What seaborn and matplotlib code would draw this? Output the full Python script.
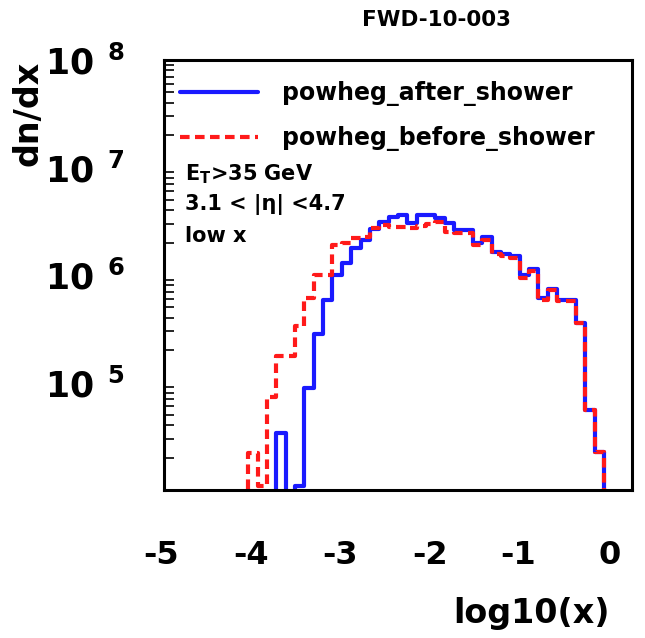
import numpy as np
import pandas as pd
import matplotlib
matplotlib.use("Agg")
import matplotlib.pyplot as plt
import matplotlib.transforms as mtransforms
from matplotlib.ticker import FixedLocator, FixedFormatter, LogLocator, NullFormatter, NullLocator
import seaborn as sns

# ---------------- data ----------------
log10x_centers = [-4.15, -4.05, -3.95, -3.85, -3.75, -3.65, -3.55, -3.45, -3.35, -3.25,
                  -3.15, -3.05, -2.95, -2.85, -2.75, -2.65, -2.55, -2.45, -2.35, -2.25,
                  -2.15, -2.05, -1.95, -1.85, -1.75, -1.65, -1.55, -1.45, -1.35, -1.25,
                  -1.15, -1.05, -0.95, -0.85, -0.75, -0.65, -0.55, -0.45, -0.35, -0.25]

after_shower = [0, 0, 0, 0, 3.4e4, 0, 1.1e4, 8.9e4, 2.8e5, 5.9e5,
                1.0e6, 1.3e6, 1.8e6, 2.1e6, 2.7e6, 3.1e6, 3.45e6, 3.6e6, 3.05e6, 3.6e6,
                3.6e6, 3.4e6, 3.05e6, 2.6e6, 2.6e6, 2.0e6, 2.25e6, 1.65e6, 1.57e6, 1.5e6,
                1.0e6, 1.14e6, 6.1e5, 7.4e5, 5.85e5, 5.85e5, 3.6e5, 5.5e4, 2.25e4, 0]

before_shower = [0, 2.2e4, 1.1e4, 7.3e4, 1.75e5, 1.75e5, 3.35e5, 6.1e5, 1.0e6, 1.0e6,
                 1.9e6, 2.0e6, 2.2e6, 2.25e6, 2.75e6, 2.9e6, 2.8e6, 2.8e6, 2.75e6, 2.85e6,
                 3.0e6, 3.1e6, 2.5e6, 2.45e6, 2.45e6, 1.9e6, 2.1e6, 1.57e6, 1.5e6, 1.44e6,
                 9.4e5, 1.1e6, 5.85e5, 7.2e5, 5.7e5, 5.7e5, 3.55e5, 5.5e4, 2.25e4, 0]

series_labels = ["powheg_after_shower", "powheg_before_shower"]
x_ticks = [-5, -4, -3, -2, -1, 0]
x_tick_labels = ["-5", "-4", "-3", "-2", "-1", "0"]
y_ticks = [1e5, 1e6, 1e7, 1e8]
y_tick_labels = [r"$\mathbf{10}^{\;\;\mathbf{5}}$", r"$\mathbf{10}^{\;\;\mathbf{6}}$",
                 r"$\mathbf{10}^{\;\;\mathbf{7}}$", r"$\mathbf{10}^{\;\;\mathbf{8}}$"]
info_lines = [r"E$_{\mathbf{T}}$>35 GeV", "3.1 < |\u03b7| <4.7", "low x"]
title_text = "FWD-10-003"

# ---------------- style ----------------
sns.set_style("white")
plt.rcParams["font.family"] = ["DejaVu Sans"]
plt.rcParams["font.weight"] = "bold"
plt.rcParams["mathtext.fontset"] = "dejavusans"
plt.rcParams["text.color"] = "black"
plt.rcParams["axes.labelcolor"] = "black"
plt.rcParams["xtick.color"] = "black"
plt.rcParams["ytick.color"] = "black"

fig = plt.figure(figsize=(6.45, 6.38), dpi=100)
ax = fig.add_axes([164 / 645, 1 - 490 / 638, 468 / 645, 430 / 638])

df = pd.DataFrame({"log10x": log10x_centers,
                   "after": after_shower,
                   "before": before_shower})
bin_edges = [round(v, 2) for v in np.linspace(-4.2, -0.2, 41)]

sns.histplot(data=df, x="log10x", weights="after", bins=bin_edges,
             element="step", fill=False, color="#1a1aff", linewidth=3.0,
             label=series_labels[0], ax=ax)
sns.histplot(data=df, x="log10x", weights="before", bins=bin_edges,
             element="step", fill=False, color="#ff1a1a", linewidth=3.0,
             linestyle=(0, (2.3, 1.3)), label=series_labels[1], ax=ax)

ax.set_yscale("log")
ax.set_xlim(-5, 0)
ax.set_ylim(1e4, 1e8)

# frame
for s in ax.spines.values():
    s.set_visible(True)
    s.set_linewidth(2.2)
    s.set_color("black")

# ticks
ax.xaxis.set_major_locator(FixedLocator(x_ticks))
ax.xaxis.set_major_formatter(FixedFormatter(x_tick_labels))
ax.xaxis.set_minor_locator(NullLocator())
ax.yaxis.set_major_locator(FixedLocator(y_ticks))
ax.yaxis.set_major_formatter(FixedFormatter(y_tick_labels))
ax.yaxis.set_minor_locator(LogLocator(base=10, subs=np.arange(2, 10)))
ax.yaxis.set_minor_formatter(NullFormatter())

ax.tick_params(axis="both", which="both", direction="in", top=False, right=False,
               colors="black", labelcolor="black")
ax.tick_params(axis="y", which="major", length=17, width=1.5, pad=28, labelsize=25)
ax.tick_params(axis="y", which="minor", length=7, width=1.2, left=True)
ax.tick_params(axis="x", which="major", length=12, width=1.5, pad=36, labelsize=23)

fig.canvas.draw()
shifts_px = [-3, -7, -11, -15, -20, -22]
for lab, dx in zip(ax.get_xticklabels(), shifts_px):
    lab.set_transform(lab.get_transform() +
                      mtransforms.ScaledTranslation(dx / 100, 0, fig.dpi_scale_trans))

# axis labels
ax.set_xlabel("log10(x)", fontsize=24, fontweight="bold", ha="right", va="center",
              color="black")
ax.xaxis.set_label_coords((610 - 164) / 468, (490 - 613) / 430)
ax.set_ylabel("dn/dx", fontsize=24, fontweight="bold", va="center", ha="center",
              color="black")
ax.yaxis.set_label_coords((28 - 164) / 468, (490 - 113) / 430)

# legend
leg = ax.legend(loc="upper left", bbox_to_anchor=((180 - 164) / 468, (490 - 81) / 430),
                frameon=False, fontsize=17, handlelength=3.3, handletextpad=1.0,
                labelspacing=0.85, borderpad=0, borderaxespad=0)
for t in leg.get_texts():
    t.set_fontweight("bold")
    t.set_color("black")

# info text
baselines_px = [180, 210, 242]
for txt, yb in zip(info_lines, baselines_px):
    ax.text((185 - 164) / 468, (490 - yb) / 430, txt, transform=ax.transAxes,
            fontsize=15, fontweight="bold", ha="left", va="baseline", color="black")

fig.text(437 / 645, 1 - 20 / 638, title_text, fontsize=15.5, fontweight="bold",
         ha="center", va="center", color="black")

fig.savefig("out.png", dpi=100)
